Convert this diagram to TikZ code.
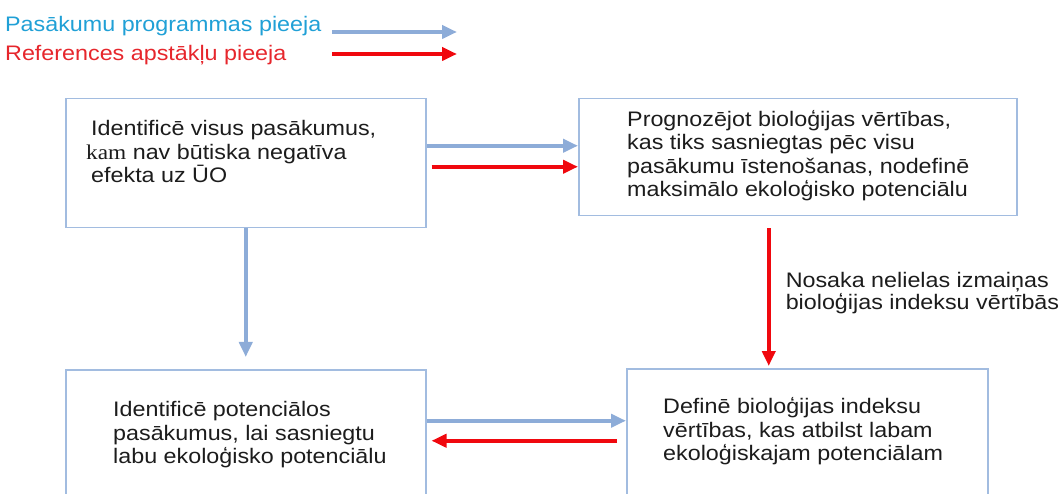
\documentclass[tikz,border=0pt]{standalone}
\usepackage{fontspec}
\setmainfont{Liberation Sans}[FakeStretch=1.11]
\newfontfamily\kamfont{Liberation Serif}[FakeStretch=1.11]
\usetikzlibrary{arrows.meta,positioning}
\definecolor{boxline}{RGB}{162,188,224}
\definecolor{arrblue}{RGB}{141,172,216}
\definecolor{arrred}{RGB}{240,8,14}
\definecolor{legblue}{RGB}{32,160,214}
\definecolor{legred}{RGB}{230,38,44}
\definecolor{txtgray}{RGB}{28,28,28}

\begin{document}
\begin{tikzpicture}[x=1pt,y=-1pt,
    box/.style={draw=boxline, line width=1.5pt, anchor=north west, inner sep=0pt},
    txt/.style={anchor=west, align=left, inner sep=0pt, text=txtgray,
        font=\fontsize{21}{23.5}\selectfont},
    legtxt/.style={anchor=base west, inner sep=0pt, font=\fontsize{21}{23.5}\selectfont},
    bluearr/.style={draw=arrblue, line width=4pt, -{Triangle[length=15pt,width=13pt]}},
    redarr/.style={draw=arrred, line width=4pt, -{Triangle[length=15pt,width=13pt]}}]
    \useasboundingbox (0,0) rectangle (1063,494);
    \node[legtxt, text=legblue] (legprog) at (5,32) {Pasākumu programmas pieeja};
    \node[legtxt, text=legred] (legref) at (5,61) {References apstākļu pieeja};
    \coordinate (legprog-a) at (332,32);
    \coordinate (legprog-b) at (457,32);
    \coordinate (legref-a) at (332,54);
    \coordinate (legref-b) at (457,54);
    \draw[bluearr] (legprog-a) -- (legprog-b);
    \draw[redarr] (legref-a) -- (legref-b);
    \node[box, minimum width=360pt, minimum height=129pt] (idall) at (65,98) {};
    \node[txt] (idall-t) at ([xshift=21pt,yshift=11.5pt]idall.west)
        {\hspace*{5pt}Identificē visus pasākumus,\\{\kamfont kam} nav būtiska negatīva\\\hspace*{5pt}efekta uz ŪO};
    \node[box, minimum width=438pt, minimum height=117pt] (predict) at (578,98) {};
    \node[txt] (predict-t) at ([xshift=49pt,yshift=1.5pt]predict.west)
        {Prognozējot bioloģijas vērtības,\\kas tiks sasniegtas pēc visu\\pasākumu īstenošanas, nodefinē\\maksimālo ekoloģisko potenciālu};
    \node[box, minimum width=360pt, minimum height=130pt] (potmeas) at (65,369) {};
    \node[txt] (potmeas-t) at ([xshift=48pt]potmeas.west)
        {Identificē potenciālos\\pasākumus, lai sasniegtu\\labu ekoloģisko potenciālu};
    \node[box, minimum width=361pt, minimum height=128pt] (defgood) at (626,368) {};
    \node[txt] (defgood-t) at ([xshift=37pt,yshift=1.5pt]defgood.west)
        {Definē bioloģijas indeksu\\vērtības, kas atbilst labam\\ekoloģiskajam potenciālam};
    \draw[bluearr] ([yshift=17.5pt]idall.east) -- ([yshift=17.5pt]idall.east -| predict.west);
    \draw[redarr] ([xshift=5pt,yshift=-3.5pt]idall.east) -- ([yshift=-3.5pt]idall.east -| predict.west);
    \draw[bluearr] (idall.south) -- ([yshift=12pt]potmeas.north);
    \draw[redarr] ([xshift=-29pt,yshift=-12pt]predict.south)
        -- node[txt, right=15pt, pos=0.47, font=\fontsize{21}{20.5}\selectfont] (smallchg)
        {Nosaka nelielas izmaiņas\\bioloģijas indeksu vērtībās}
        ([xshift=-29pt,yshift=2pt]predict.south |- defgood.north);
    \draw[bluearr] ([yshift=14pt]potmeas.east) -- ([yshift=14pt]potmeas.east -| defgood.west);
    \draw[redarr] ([xshift=-9pt,yshift=-6pt]potmeas.east -| defgood.west) -- ([xshift=5pt,yshift=-6pt]potmeas.east);
\end{tikzpicture}
\end{document}
